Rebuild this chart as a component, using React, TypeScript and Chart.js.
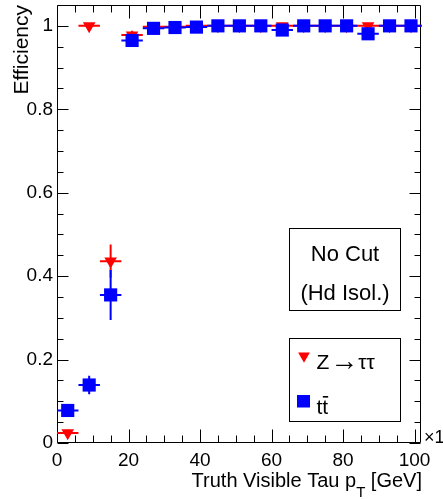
import React, { useEffect, useRef } from 'react';
import { Chart, registerables } from 'chart.js';

Chart.register(...registerables);

const FONT = "'Liberation Sans', Arial, Helvetica, sans-serif";

// bin centres (GeV), bins of width 6
const binCenters = [3, 9, 15, 21, 27, 33, 39, 45, 51, 57, 63, 69, 75, 81, 87, 93, 99];
const binHalfWidth = 3;

// Z -> tau tau efficiency
const zttEff = [0.024, 1.0, 0.436, 0.978, 0.998, 0.998, 1.0, 1.0, 1.0, 1.0, 1.0, 1.0, 1.0, 1.0, 1.0, 1.0, 1.0];
const zttErr = [0.008, 0.003, 0.04, 0.01, 0.003, 0.003, 0.002, 0.002, 0.002, 0.002, 0.002, 0.002, 0.002, 0.002, 0.002, 0.002, 0.002];

// ttbar efficiency
const ttbarEff = [0.078, 0.139, 0.355, 0.965, 0.994, 0.996, 0.997, 1.0, 1.0, 1.0, 0.99, 1.0, 1.0, 1.0, 0.981, 1.0, 1.0];
const ttbarErr = [0.01, 0.022, 0.06, 0.012, 0.005, 0.004, 0.003, 0.002, 0.002, 0.002, 0.006, 0.002, 0.002, 0.002, 0.008, 0.002, 0.002];

const xTickValues = [0, 20, 40, 60, 80, 100];
const yTickValues = [0, 0.2, 0.4, 0.6, 0.8, 1];
const xMinorStep = 5;
const yMinorStep = 0.05;
const xRange = [0, 101.8];
const yRange = [0, 1.05];

const zttLabelParts = ['Z', '\u2192', '\u03C4\u03C4'];
const ttbarLabel = 'tt';
const boxLines = ['No Cut', '(Hd Isol.)'];
const xTitleParts = ['Truth Visible Tau p', 'T', ' [GeV]'];
const yTitle = 'Efficiency';
const xExponent = '\u00D71';

const RED = '#ff0000';
const BLUE = '#0000ff';

const decorPlugin = {
  id: 'decor',
  beforeDatasetsDraw(chart: any) {
    const { ctx, chartArea: a, scales } = chart;
    const xs = scales.x;
    const ys = scales.y;
    ctx.save();
    ctx.strokeStyle = '#000';
    ctx.lineWidth = 1;
    const L = Math.round(a.left) + 0.5;
    const R = Math.round(a.right) - 0.5;
    const T = Math.round(a.top) + 0.5;
    const B = Math.round(a.bottom) - 0.5;
    ctx.beginPath();
    ctx.rect(L, T, R - L, B - T);
    ctx.stroke();
    ctx.beginPath();
    // x ticks (bottom & top)
    for (let v = xRange[0]; v <= 100 + 1e-9; v += xMinorStep) {
      const major = xTickValues.some((t) => Math.abs(t - v) < 1e-6);
      const len = major ? 13 : 7;
      const px = Math.round(xs.getPixelForValue(v)) + 0.5;
      ctx.moveTo(px, B);
      ctx.lineTo(px, B - len);
      ctx.moveTo(px, T);
      ctx.lineTo(px, T + len);
    }
    // y ticks (left & right)
    for (let i = 0; i * yMinorStep <= 1.0 + 1e-9; i++) {
      const v = i * yMinorStep;
      const major = yTickValues.some((t) => Math.abs(t - v) < 1e-6);
      const len = major ? 11 : 6;
      const py = Math.round(ys.getPixelForValue(v)) + 0.5;
      ctx.moveTo(L, py);
      ctx.lineTo(L + len, py);
      ctx.moveTo(R, py);
      ctx.lineTo(R - len, py);
    }
    ctx.stroke();
    ctx.restore();
  },
  beforeDatasetDraw(chart: any, args: any) {
    const ds = chart.data.datasets[args.index];
    const xs = chart.scales.x;
    const ys = chart.scales.y;
    const ctx = chart.ctx;
    ctx.save();
    ctx.strokeStyle = ds.errColor;
    ctx.lineWidth = 2;
    ctx.beginPath();
    ds.data.forEach((p: any, i: number) => {
      const px = xs.getPixelForValue(p.x);
      const py = ys.getPixelForValue(p.y);
      const x0 = xs.getPixelForValue(p.x - ds.xHalf);
      const x1 = xs.getPixelForValue(p.x + ds.xHalf);
      const y0 = ys.getPixelForValue(p.y - ds.yErr[i]);
      const y1 = ys.getPixelForValue(p.y + ds.yErr[i]);
      ctx.moveTo(x0, py);
      ctx.lineTo(x1, py);
      ctx.moveTo(px, y0);
      ctx.lineTo(px, y1);
    });
    ctx.stroke();
    ctx.restore();
  },
  afterDraw(chart: any) {
    const { ctx } = chart;
    ctx.save();
    ctx.fillStyle = '#000';
    ctx.textBaseline = 'alphabetic';

    // x axis title with subscript
    ctx.font = `20px ${FONT}`;
    const w1 = ctx.measureText(xTitleParts[0]).width;
    const w3 = ctx.measureText(xTitleParts[2]).width;
    ctx.font = `15px ${FONT}`;
    const w2 = ctx.measureText(xTitleParts[1]).width;
    const xEnd = 422;
    let x = xEnd - (w1 + w2 + w3);
    ctx.textAlign = 'left';
    ctx.font = `20px ${FONT}`;
    ctx.fillText(xTitleParts[0], x, 487);
    x += w1;
    ctx.font = `15px ${FONT}`;
    ctx.fillText(xTitleParts[1], x, 497);
    x += w2;
    ctx.font = `20px ${FONT}`;
    ctx.fillText(xTitleParts[2], x, 487);

    // exponent label
    ctx.font = `18px ${FONT}`;
    ctx.fillText(xExponent, 424, 443);

    // y axis title
    ctx.save();
    ctx.translate(28, 5);
    ctx.rotate(-Math.PI / 2);
    ctx.font = `21px ${FONT}`;
    ctx.textAlign = 'right';
    ctx.fillText(yTitle, 0, 0);
    ctx.restore();

    // text box
    ctx.fillStyle = '#fff';
    ctx.fillRect(289.5, 228.5, 111, 82);
    ctx.strokeStyle = '#000';
    ctx.lineWidth = 1;
    ctx.strokeRect(289.5, 228.5, 111, 82);
    ctx.fillStyle = '#000';
    ctx.textAlign = 'center';
    ctx.font = `22px ${FONT}`;
    ctx.fillText(boxLines[0], 345, 261);
    ctx.fillText(boxLines[1], 345, 300);

    // legend box
    ctx.fillStyle = '#fff';
    ctx.fillRect(289.5, 338.5, 111, 83);
    ctx.strokeRect(289.5, 338.5, 111, 83);
    // triangle marker
    const cx = 304;
    const cy = 356;
    const r = 6.8;
    ctx.fillStyle = RED;
    ctx.beginPath();
    ctx.moveTo(cx, cy + r);
    ctx.lineTo(cx - r * Math.sin(Math.PI / 3), cy - r / 2);
    ctx.lineTo(cx + r * Math.sin(Math.PI / 3), cy - r / 2);
    ctx.closePath();
    ctx.fill();
    // square marker
    ctx.fillStyle = BLUE;
    ctx.fillRect(297, 395, 13, 12.5);
    ctx.fillStyle = '#000';
    ctx.textAlign = 'left';
    // Z -> tau tau label (arrow drawn larger like the symbol font)
    let lx = 316.5;
    ctx.font = `21px ${FONT}`;
    ctx.fillText(zttLabelParts[0], lx, 368.5);
    lx += ctx.measureText(zttLabelParts[0]).width + 1;
    ctx.font = `28px ${FONT}`;
    ctx.fillText(zttLabelParts[1], lx, 370);
    lx += ctx.measureText(zttLabelParts[1]).width;
    ctx.font = `21px ${FONT}`;
    ctx.fillText(zttLabelParts[2], lx, 368.5);
    // ttbar label with bar over second t
    ctx.fillText(ttbarLabel, 316.5, 413.5);
    const tw = ctx.measureText('t').width;
    ctx.fillRect(316.5 + tw + 0.5, 396, tw - 0.5, 1.6);
    ctx.restore();
  },
};

export default function App() {
  const ref = useRef<HTMLCanvasElement>(null);
  useEffect(() => {
    document.body.style.margin = '0';
    const canvas = ref.current;
    if (!canvas) return;
    const tickFont = { family: FONT, size: 19 };
    const chart = new Chart(canvas, {
      type: 'scatter',
      data: {
        datasets: [
          {
            label: 'ttbar',
            data: binCenters.map((x, i) => ({ x, y: ttbarEff[i] })),
            pointStyle: 'rect',
            pointRadius: 9.3,
            pointBackgroundColor: BLUE,
            pointBorderWidth: 0,
            borderColor: BLUE,
            showLine: false,
            errColor: BLUE,
            xHalf: binHalfWidth,
            yErr: ttbarErr,
            clip: false,
          } as any,
          {
            label: 'Ztautau',
            data: binCenters.map((x, i) => ({ x, y: zttEff[i] })),
            pointStyle: 'triangle',
            rotation: 180,
            pointRotation: 180,
            pointRadius: 7.3,
            pointBackgroundColor: RED,
            pointBorderWidth: 0,
            borderColor: RED,
            showLine: false,
            errColor: RED,
            xHalf: binHalfWidth,
            yErr: zttErr,
            clip: false,
          } as any,
        ],
      },
      options: {
        animation: false,
        responsive: false,
        maintainAspectRatio: false,
        devicePixelRatio: 1,
        layout: { autoPadding: false, padding: { top: 5, right: 22, left: 0, bottom: 0 } },
        plugins: { legend: { display: false }, tooltip: { enabled: false } },
        events: [],
        scales: {
          x: {
            type: 'linear',
            min: xRange[0],
            max: xRange[1],
            afterBuildTicks: (s: any) => {
              s.ticks = xTickValues.map((v) => ({ value: v }));
            },
            afterFit: (s: any) => {
              s.height = 56;
              s.paddingLeft = 0;
              s.paddingRight = 0;
            },
            ticks: {
              font: tickFont,
              color: '#000',
              padding: 6,
              maxRotation: 0,
              autoSkip: false,
              callback: (v: any) => String(v),
            },
            grid: { display: false, drawTicks: false },
            border: { display: false },
          },
          y: {
            type: 'linear',
            min: yRange[0],
            max: yRange[1],
            afterBuildTicks: (s: any) => {
              s.ticks = yTickValues.map((v) => ({ value: v }));
            },
            afterFit: (s: any) => {
              s.width = 57;
              s.paddingTop = 0;
              s.paddingBottom = 0;
            },
            ticks: {
              font: tickFont,
              color: '#000',
              padding: 4,
              autoSkip: false,
              callback: (v: any) => String(Math.round(v * 10) / 10),
            },
            grid: { display: false, drawTicks: false },
            border: { display: false },
          },
        },
      },
      plugins: [decorPlugin],
    });
    return () => chart.destroy();
  }, []);
  return <canvas ref={ref} width={443} height={499} style={{ display: 'block' }} />;
}
